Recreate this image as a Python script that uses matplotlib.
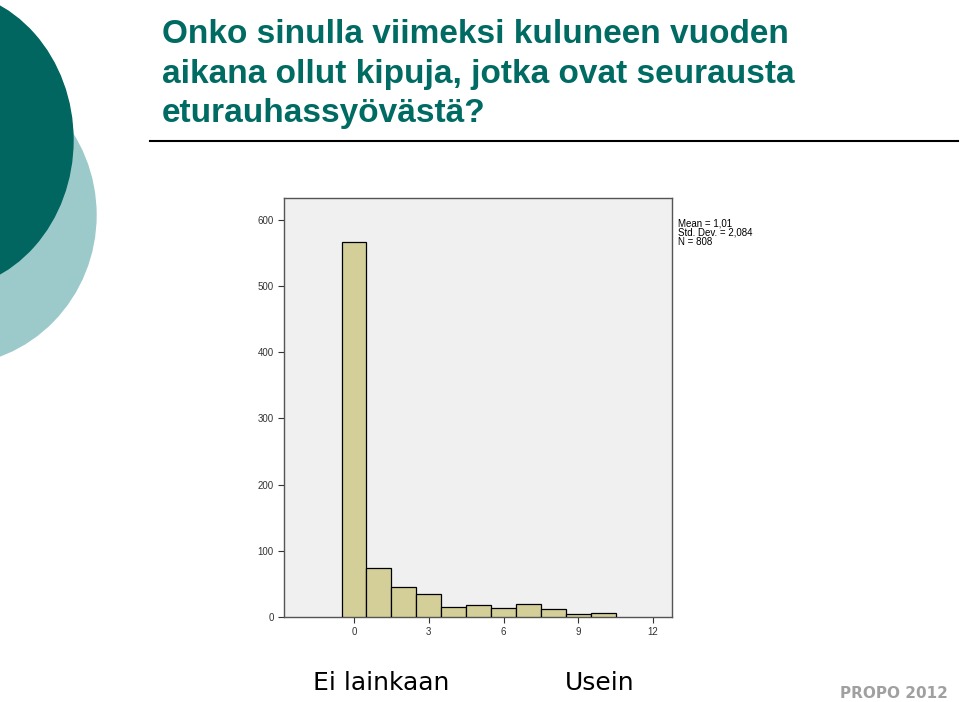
import matplotlib
matplotlib.use("Agg")
import matplotlib.pyplot as plt
from matplotlib.patches import Ellipse

# Data
bin_values = [0, 1, 2, 3, 4, 5, 6, 7, 8, 9, 10]
counts = [566, 74, 46, 35, 15, 18, 13, 19, 12, 4, 6]
x_ticks = [0, 3, 6, 9, 12]
y_ticks = [0, 100, 200, 300, 400, 500, 600]
stats_text = "Mean = 1,01\nStd. Dev. = 2,084\nN = 808"
title_lines = ["Onko sinulla viimeksi kuluneen vuoden",
               "aikana ollut kipuja, jotka ovat seurausta",
               "eturauhassyövästä?"]

W, H = 960, 702
fig = plt.figure(figsize=(W / 100, H / 100), dpi=100)
fig.patch.set_facecolor("white")

# background decoration axes (pixel coords)
bg = fig.add_axes([0, 0, 1, 1])
bg.set_xlim(0, W)
bg.set_ylim(H, 0)
bg.axis("off")
bg.add_patch(Ellipse((-50, 215), 292, 300, color="#9ccaca", zorder=1))
bg.add_patch(Ellipse((-60, 140), 266, 300, color="#00665f", zorder=2))
bg.plot([150, 958], [141, 141], color="black", lw=1.5, zorder=3)

for i, line in enumerate(title_lines):
    fig.text(162 / W, 1 - (43 + 39.5 * i) / H, line, ha="left", va="baseline",
             fontsize=24, fontweight="bold", color="#006b63",
             family="Liberation Sans")

fig.text(313 / W, 1 - 683 / H, "Ei lainkaan", ha="left", va="center",
         fontsize=18, family="DejaVu Sans", color="black")
fig.text(565 / W, 1 - 683 / H, "Usein", ha="left", va="center",
         fontsize=18, family="DejaVu Sans", color="black")
fig.text(948 / W, 1 - 694 / H, "PROPO 2012", ha="right", va="center",
         fontsize=11, fontweight="bold", family="DejaVu Sans", color="#a0a0a0")

# histogram axes
left, right, top, bottom = 284, 672, 198, 617
ax = fig.add_axes([left / W, 1 - bottom / H, (right - left) / W, (bottom - top) / H])
ax.set_facecolor("#f0f0f0")
ax.bar(bin_values, counts, width=1.0, color="#d4cf98", edgecolor="black",
       linewidth=0.9, zorder=3)
ax.set_xlim(-2.81, 12.76)
ax.set_ylim(0, 633)
ax.set_xticks(x_ticks)
ax.set_yticks(y_ticks)
ax.tick_params(labelsize=7, length=4, width=0.8, colors="#333333")
for lab in ax.get_xticklabels() + ax.get_yticklabels():
    lab.set_family("Liberation Sans")
for s in ax.spines.values():
    s.set_color("#555555")
    s.set_linewidth(1.0)

fig.text(678 / W, 1 - 218 / H, stats_text, ha="left", va="top", fontsize=7,
         family="Liberation Sans", color="black", linespacing=0.95)

fig.savefig("out.png", dpi=100, facecolor="white")
